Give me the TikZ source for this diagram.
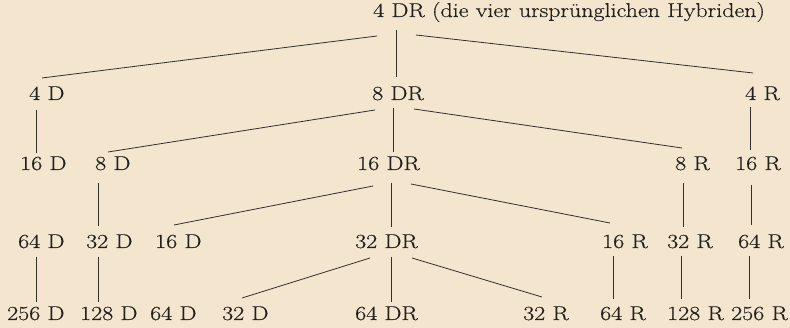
\documentclass[tikz,border=0pt]{standalone}
\usepackage{fontspec}
\setmainfont{Latin Modern Roman}[FakeStretch=1.2,FakeBold=0.4]
\definecolor{paper}{RGB}{243,229,206}
\definecolor{ink}{RGB}{35,32,30}
\definecolor{rule}{RGB}{50,46,42}
\begin{document}
\begin{tikzpicture}[x=1pt,y=-1pt,
  lbl/.style={anchor=base west,inner sep=0pt,text=ink,font=\fontsize{20}{24}\selectfont},
  lk/.style={draw=rule,line width=0.8pt}]
\fill[paper] (0,0) rectangle (790,328);
\useasboundingbox (0,0) rectangle (790,328);
\newcommand\lnk[6]{\draw[lk] ([shift={(#2,#3)}]#1.base west) -- ([shift={(#5,#6)}]#4.base west);}
% row 0
\node[lbl] (n0) at (373,17) {4 DR (die vier ursprünglichen Hybriden)};
% row 1
\node[lbl] (r1a) at (29,100) {4 D};
\node[lbl] (r1c) at (372,100) {8 DR};
\node[lbl] (r1e) at (745,100) {4 R};
% row 2
\node[lbl] (r2a) at (20,170) {16 D};
\node[lbl] (r2b) at (95,170) {8 D};
\node[lbl] (r2c) at (357,170) {16 DR};
\node[lbl] (r2d) at (675,170) {8 R};
\node[lbl] (r2e) at (735,170) {16 R};
% row 3
\node[lbl] (r3a) at (18,248) {64 D};
\node[lbl] (r3b) at (86,248) {32 D};
\node[lbl] (r3c) at (155,248) {16 D};
\node[lbl] (r3d) at (355,248) {32 DR};
\node[lbl] (r3e) at (602,248) {16 R};
\node[lbl] (r3f) at (667,248) {32 R};
\node[lbl] (r3g) at (738,248) {64 R};
% row 4
\node[lbl] (r4a) at (7,320) {256 D};
\node[lbl] (r4b) at (80,320) {128 D};
\node[lbl] (r4c) at (150,320) {64 D};
\node[lbl] (r4d) at (222,320) {32 D};
\node[lbl] (r4e) at (355,320) {64 DR};
\node[lbl] (r4f) at (523,320) {32 R};
\node[lbl] (r4g) at (600,320) {64 R};
\node[lbl] (r4h) at (667,320) {128 R};
\node[lbl] (r4i) at (731,320) {256 R};
% links
\lnk{n0}{23}{13}{r1c}{24}{-23}
\lnk{n0}{4}{19}{r1a}{13}{-22}
\lnk{n0}{43}{18}{r1e}{8}{-27}
\lnk{r1a}{7}{10}{r2a}{16}{-17}
\lnk{r1c}{21}{8}{r2c}{36}{-18}
\lnk{r1c}{3}{10}{r2b}{13}{-18}
\lnk{r1c}{42}{9}{r2d}{7}{-22}
\lnk{r1e}{5}{7}{r2e}{15}{-20}
\lnk{r2b}{3}{13}{r3b}{12}{-22}
\lnk{r2c}{34}{13}{r3d}{36}{-21}
\lnk{r2c}{16}{16}{r3c}{19}{-23}
\lnk{r2c}{54}{14}{r3e}{8}{-25}
\lnk{r2d}{8}{13}{r3f}{16}{-21}
\lnk{r2e}{16}{15}{r3g}{13}{-23}
\lnk{r3a}{18}{9}{r4a}{29}{-18}
\lnk{r3b}{12}{9}{r4b}{18}{-18}
\lnk{r3d}{36}{9}{r4e}{36}{-18}
\lnk{r3d}{15}{10}{r4d}{20}{-22}
\lnk{r3d}{57}{10}{r4f}{19}{-23}
\lnk{r3e}{11}{8}{r4g}{13}{-21}
\lnk{r3f}{14}{8}{r4h}{14}{-21}
\lnk{r3g}{11}{8}{r4i}{18}{-21}
\end{tikzpicture}
\end{document}
